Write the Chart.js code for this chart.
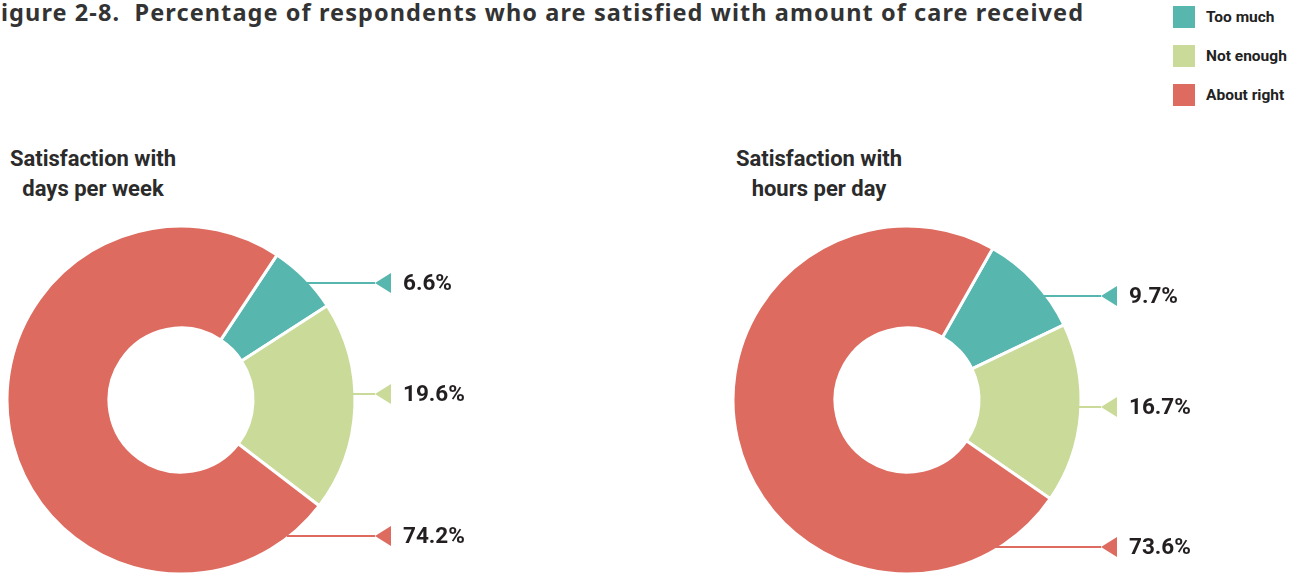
<!DOCTYPE html>
<html>
<head>
<meta charset="utf-8">
<title>Figure 2-8</title>
<script src="https://cdn.jsdelivr.net/npm/chart.js@4"></script>
<style>
  html, body { margin: 0; padding: 0; background: #fff; }
  body { width: 1302px; height: 573px; position: relative; overflow: hidden;
         font-family: Roboto, "Noto Sans", sans-serif; color: #2b2b2b; }
  .fig-title { position: absolute; left: 0; top: -4px; font-family: "Noto Sans", Roboto, sans-serif;
               font-size: 23.5px; font-weight: 700; line-height: 32px; white-space: pre; color: #333; }
  .legend { position: absolute; left: 1173px; top: 6px; }
  .legend div { height: 22px; margin-bottom: 17px; display: flex; align-items: center;
                font-size: 15.5px; font-weight: 700; color: #222; }
  .legend span { width: 22px; height: 22px; margin-right: 11px; display: inline-block; }
  .sub { position: absolute; top: 144px; width: 240px; text-align: center; font-size: 22px;
         font-weight: 700; line-height: 30px; color: #2b2b2b; }
  .panel { position: absolute; top: 0; width: 651px; height: 573px; }
</style>
</head>
<body>
<div class="fig-title" id="figTitle"></div>
<div class="legend" id="legend"></div>
<div class="sub" id="sub0" style="left: -27px;"></div>
<div class="sub" id="sub1" style="left: 699px;"></div>
<div class="panel" style="left: 0;"><canvas id="daysChart"></canvas></div>
<div class="panel" style="left: 651px;"><canvas id="hoursChart"></canvas></div>
<script>
const figureTitle = 'Figure 2-8.  Percentage of respondents who are satisfied with amount of care received';
const categories = ['Too much', 'Not enough', 'About right'];
const daysPerWeek = [6.6, 19.6, 74.2];
const hoursPerDay = [9.7, 16.7, 73.6];
const chartTitles = [['Satisfaction with', 'days per week'], ['Satisfaction with', 'hours per day']];

const COLORS = ['#57b6ae', '#c9da99', '#dd6b5f'];

// the title's first letter sits just off the left edge; the rest ends at x=1083
const titleEl = document.getElementById('figTitle');
const firstEl = document.createElement('span');
firstEl.textContent = figureTitle[0];
titleEl.appendChild(firstEl);
titleEl.appendChild(document.createTextNode(figureTitle.slice(1)));
const titleRight = 1083;
let spacing = 0;
for (let k = 0; k < 3; k++) {
    titleEl.style.letterSpacing = spacing.toFixed(3) + 'px';
    const shift = firstEl.getBoundingClientRect().width - 1;
    titleEl.style.left = (-shift) + 'px';
    const right = titleEl.getBoundingClientRect().right - spacing;
    spacing += (titleRight - right) / (figureTitle.length - 1);
}
titleEl.style.letterSpacing = spacing.toFixed(3) + 'px';
titleEl.style.left = (-(firstEl.getBoundingClientRect().width - 1)) + 'px';

document.getElementById('legend').innerHTML = categories
    .map((c, i) => `<div><span style="background:${COLORS[i]}"></span>${c}</div>`).join('');
chartTitles.forEach((lines, i) => {
    document.getElementById('sub' + i).innerHTML = lines.join('<br>');
});

// leader line + arrow + percentage for each slice, placed at a given angle on the rim
const leaderLabels = {
    id: 'leaderLabels',
    afterDatasetsDraw(chart, args, opts) {
        const meta = chart.getDatasetMeta(0);
        const data = chart.data.datasets[0].data;
        const ctx = chart.ctx;
        ctx.save();
        meta.data.forEach((arc, i) => {
            const cx = arc.x, cy = arc.y, r = arc.outerRadius - 2;
            const a = opts.angles[i] * Math.PI / 180;
            const y = Math.round(cy - r * Math.cos(a));
            const x0 = cx + r * Math.sin(a);
            const tip = cx + 194;
            ctx.strokeStyle = COLORS[i];
            ctx.fillStyle = COLORS[i];
            ctx.lineWidth = 2;
            ctx.beginPath();
            ctx.moveTo(x0, y);
            ctx.lineTo(tip, y);
            ctx.stroke();
            ctx.beginPath();
            ctx.moveTo(tip, y);
            ctx.lineTo(tip + 16, y - 10);
            ctx.lineTo(tip + 16, y + 10);
            ctx.closePath();
            ctx.fill();
            ctx.fillStyle = '#231f20';
            ctx.font = '700 22.5px Roboto, "Noto Sans", sans-serif';
            ctx.textBaseline = 'middle';
            ctx.fillText(data[i].toFixed(1) + '%', cx + 222, y + 1);
        });
        ctx.restore();
    }
};

function makeChart(id, values, rotation, padding, angles) {
    return new Chart(document.getElementById(id), {
        type: 'doughnut',
        data: {
            labels: categories,
            datasets: [{
                data: values,
                backgroundColor: COLORS,
                borderColor: '#ffffff',
                borderWidth: 3,
                hoverOffset: 0
            }]
        },
        options: {
            responsive: true,
            maintainAspectRatio: false,
            animation: false,
            events: [],
            rotation: rotation,
            radius: 174,
            cutout: 71,
            layout: { padding: padding },
            plugins: {
                legend: { display: false },
                tooltip: { enabled: false },
                leaderLabels: { angles: angles }
            }
        },
        plugins: [leaderLabels]
    });
}

makeChart('daysChart', daysPerWeek, 33.5,
    { left: 8, right: 297, top: 227, bottom: 0 }, [47, 88, 142]);
makeChart('hoursChart', hoursPerDay, 29.5,
    { left: 83, right: 222, top: 227, bottom: 0 }, [52.6, 92.3, 149]);
</script>
</body>
</html>
